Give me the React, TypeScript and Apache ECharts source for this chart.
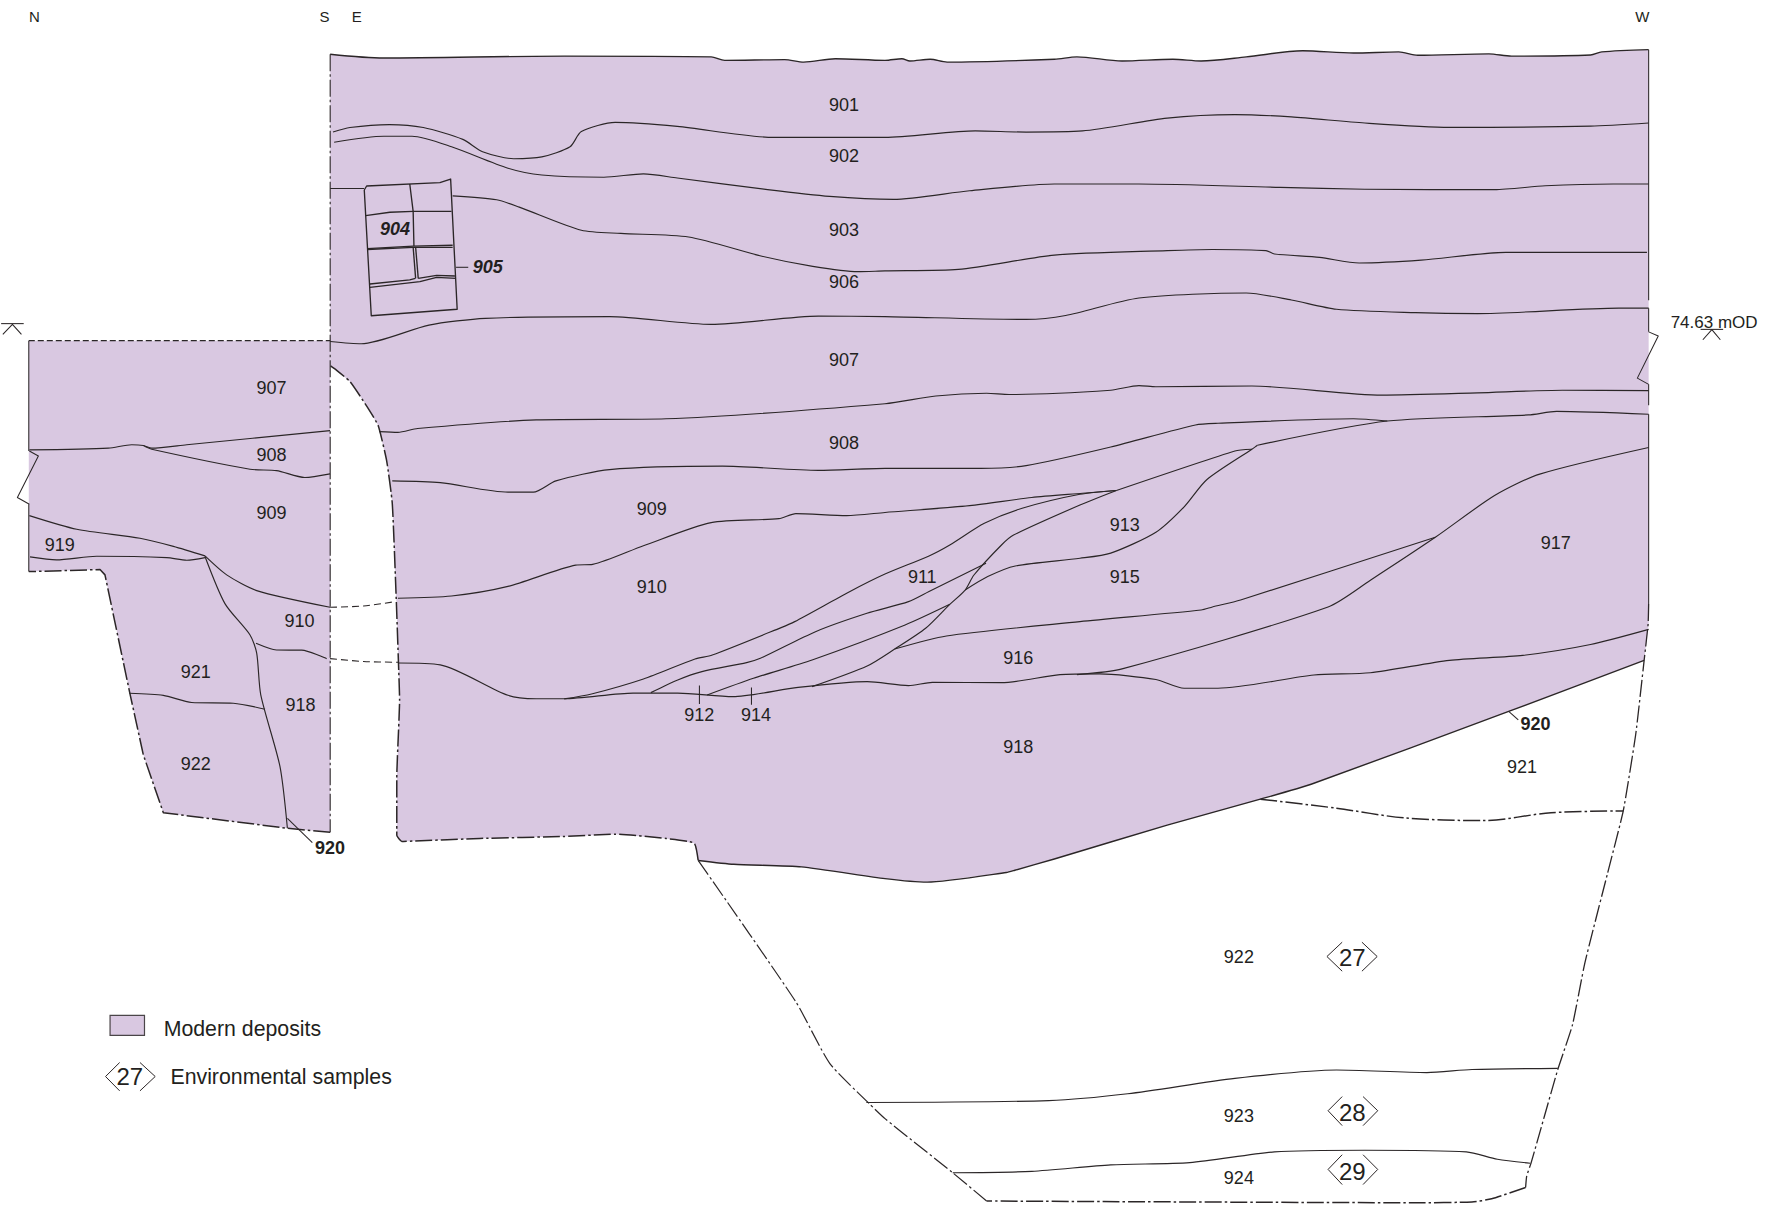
import React, { useEffect, useRef } from "react";
import * as echarts from "echarts";

type P = [number, number];
const X_MAX = 1568;
const Y_MAX = 1075.5;
const PURPLE = "#d9c8e1";
const INK = "#2b2627";
const FONT = '"Liberation Sans", Arial, sans-serif';

// ---- deposit outlines ----
const topEdge: P[] = [[292.5,48],[340,51.4],[500,49.7],[630,50.4],[642,53.5],[695,52.8],[712,55],[740,52],[784,53.5],[799,52],[806,54],[824,52.5],[839,55],[934,52.5],[954,50.4],[994,54],[1039,52.5],[1064,54],[1104,50.4],[1154,45],[1199,47],[1239,46],[1256,49],[1319,47.7],[1339,49.7],[1409,48.7],[1419,46],[1460.5,44]];
const bottomEdge: P[] = [[1456.5,585],[1336.5,630.3],[1161.5,694.8],[1116.5,708],[1034,731],[934,761],[899,771],[891.5,773],[821.5,781.5],[784,778.4],[710,768],[650,765.7],[618.5,762.3]];
const mainLowerEdge: P[] = [[618.5,762.3],[615,747],[590,742.8],[545,739],[500,741],[425,742.8],[367.5,745],[356,745.5],[351.5,740],[351.5,688.6],[354,620],[353,587.4],[351,530],[347.5,445.8],[342.5,408],[335,377],[325,360],[310,338],[297.5,327.5],[292.5,324]];
const rightEdgeFill: P[] = [[1460.5,44],[1460.5,553]];
const leftBlockOutline: P[] = [[25.5,301.8],[292.5,301.8],[292.5,737.3],[254.6,733.8],[144.7,720],[127,668.8],[115,614],[93,509.3],[88.6,504.6],[25.5,506.4]];
const leftBlockBottom: P[] = [[292.5,737.3],[254.6,733.8],[144.7,720],[127,668.8],[115,614],[93,509.3],[88.6,504.6],[25.5,506.4]];

// ---- strata, east-west face ----
const line901: P[] = [[295,117],[310,113],[345,110.4],[375,113],[410,123.5],[427.5,134.4],[455,140.6],[480,139],[505,130],[515,116.6],[545,108.4],[600,112],[685,121.7],[784,121.7],[864,116],[909,117],[959,116],[1034,104.6],[1094,101.5],[1144,103.6],[1209,109],[1284,112.8],[1409,111.8],[1460.5,109]];
const line902: P[] = [[296,126],[340,120.7],[365,120.7],[400,130],[450,149],[480,155],[535,157],[570,154],[600,157.7],[680,168],[735,174],[791.5,176.6],[859,169],[934,163],[1009,163],[1134,166],[1209,167.7],[1324,168],[1369,164.6],[1429,163],[1460.5,163]];
const line903a: P[] = [[292.5,167],[322.5,167]];
const line903b: P[] = [[401,173.5],[440,177],[460,183.5],[515,204],[550,206.8],[610,210],[675,227],[720,236],[760,240.7],[784,240],[849,238.7],[934,226],[1034,222],[1074,221],[1121.5,222],[1129,225],[1169,228],[1204,233],[1259,230.5],[1334,223.6],[1459,223.6]];
const line906: P[] = [[292.5,302.5],[320,304.5],[380,288],[430,282],[540,280.5],[630,287.4],[725,280],[784,280.5],[909,283],[944,279.5],[1009,264],[1104,259.6],[1144,265.8],[1184,274],[1254,277],[1309,277.8],[1434,273],[1460.5,273]];
const line907: P[] = [[336,382.4],[352.5,383],[370,379.6],[475,372],[590,371],[784,357.7],[829,350.8],[874,348.4],[894,349.5],[984,345.7],[1009,341.6],[1024,342.6],[1109,342],[1224,350],[1309,348],[1384,345.7],[1460.5,346]];
const line908: P[] = [[347.5,426],[390,427.6],[450,436],[472.5,436],[492.5,426],[540,416],[640,413],[725,416.7],[784,415],[869,415],[909,412.5],[984,396],[1059,376.5],[1079,375],[1199,371],[1229,373]];
const line909: P[] = [[352.5,530],[400,528],[450,519.5],[510,500.7],[525,500],[570,483.5],[630,463],[690,459.5],[705,455],[750,456.8],[784,454],[859,448],[914,440.7],[959,437],[989,434.5]];
const line917top: P[] = [[1114,394.4],[1229,373],[1354,367.6],[1379,364.5],[1460.5,367]];
const line913top: P[] = [[989,434.5],[1094,399.5],[1109,398]];
const line911: P[] = [[499.8,619.2],[524,614.8],[570,601.5],[615.7,583.8],[631,580.3],[692,556],[704,550.7],[753,524],[783.5,508.8],[823,492.5],[841.4,482.8],[872,463.6],[905.5,450.3],[956.7,437.9],[989,434.5]];
const line912: P[] = [[576.6,613.6],[600.4,602.4],[621.8,595],[661.4,587],[673.6,583.2],[722.4,559.6],[768,543.3],[804.8,533],[823,524],[873.5,499]];
const line914: P[] = [[626.4,615.7],[667.5,600.9],[719.4,584.7],[801.8,553.7],[841.4,535.4]];
const line915: P[] = [[719.4,608.3],[768.2,590],[792.6,575],[820,556.6],[841.4,535.4],[855,522.7],[862.8,509.4],[887.2,482.8],[897.9,474],[956.7,447.4],[989,434.5]];
const line913: P[] = [[855,522.7],[875,510.8],[899.4,501.4],[956.7,494.6],[984,490],[1024,471.5],[1049,449],[1069,425],[1109,398],[1114,394.4]];
const line916top: P[] = [[792.6,575],[838.4,563.4],[956.7,550.7],[1064,540.4],[1074,537.7],[1099,531.5],[1271.5,476]];
const line916bottom: P[] = [[954,597.7],[994,592.6],[1176.5,537.7],[1214,514],[1271.5,476],[1324,439],[1364,420],[1460.5,396.4]];
const line918: P[] = [[353,587.4],[390,589],[450,616],[475,619],[499.8,619],[560.8,614],[600.4,614],[649.2,617.2],[707,609],[768.2,603.9],[804.8,607.4],[826,604.5],[887.2,604.8],[939,597.7],[974,597],[1024,602],[1049,609.7],[1079,609.7],[1164,598],[1214,596],[1284,585],[1349,580.6],[1409,571],[1460.5,557.6]];

// ---- strata, north-south face ----
const south907: P[] = [[26,398.6],[96,397],[116.7,394],[127,394.7],[134.4,397],[165.4,394],[292.4,381.5]];
const south908: P[] = [[127,394.7],[134.4,398],[221.5,415.7],[245,416.9],[270,423],[292.4,419.8]];
const south909: P[] = [[26,456.8],[68,468.9],[124,476.8],[153.6,484],[181.6,492.5]];
const south919: P[] = [[26.6,493.4],[50,496],[85.6,492.8],[147.7,494],[165.4,496.3],[181.6,494]];
const south910: P[] = [[181.6,492.5],[200.8,509.3],[227.4,523.2],[292.4,538]];
const south921: P[] = [[181.6,493],[199.4,535],[221.5,562.5],[227.4,578.7],[231,615.6],[248,679],[254.6,733.8]];
const south918: P[] = [[226.8,569.9],[245,575.8],[267.3,576],[289.4,583.5]];
const south922: P[] = [[114.6,614.2],[144.7,616],[169.8,622.4],[206.7,623],[234.8,628.3]];

// ---- unshaded strata below 920 ----
const lower921: P[] = [[1116.5,708],[1184,716],[1244,724.6],[1314,727],[1374,720],[1438,718.4]];
const lower922: P[] = [[767.5,976.7],[929,975],[999,969],[1094,955.4],[1184,947.9],[1264,950.2],[1304,947.5],[1380,946.5]];
const lower923: P[] = [[844,1039],[914,1037.7],[984,1032],[1054,1030],[1129,1020.5],[1209,1019],[1299,1020.5],[1326.5,1027],[1355.5,1030.5]];
const lowerOutlineEast: P[] = [[1460.5,535],[1460,553],[1456.5,585],[1449,650.9],[1438,718.4],[1424,774],[1404,853],[1393,908],[1380,947.5],[1356.5,1029.8],[1352.5,1041.8],[1351.5,1052]];
const lowerOutlineBase: P[] = [[1351.5,1052],[1321.5,1062],[1304,1064.8],[1254,1065.5],[874,1064]];
const lowerOutlineWest: P[] = [[874,1064],[844,1039],[784,991],[770,977.7],[735,942],[705,887.5],[618.5,762.3]];

// ---- dashed links between faces ----
const link910: P[] = [[292.4,538],[322,536.8],[350,533]];
const link918: P[] = [[292.4,583.5],[322,586],[353,586.7]];
const topDash: P[] = [[25.5,301.8],[292.5,301.8]];
const sectionDivide: P[] = [[292.5,48],[292.5,737.3]];

// ---- straight drawn edges, breaks, leaders ----
const straightLines: P[][] = [
  [[1460.5,44],[1460.5,266]], [[1460.5,273],[1460.5,294]], [[1460.5,340.5],[1460.5,359]], [[1460.5,367],[1460.5,535]],
  [[1460.5,294],[1469,297.7],[1450.5,335],[1460.5,340.5]],
  [[25.5,301.8],[25.5,399.5]], [[25.5,446.7],[25.5,506.4]],
  [[26,399.5],[34,404],[15.4,440.8],[26,446.7]],
  [[1,286.7],[21,286.7]], [[2.5,296.3],[11,287.4],[19,296.3]],
  [[1506.5,291.8],[1526.5,291.8]], [[1508.5,301],[1516.5,292],[1524,301]],
  [[619.6,607.4],[619.6,623.7]], [[665.7,609],[665.7,624.3]],
  [[254.6,725],[276.7,746.5]], [[1336.5,630.3],[1345,637.8]],
  [[404,236.8],[414.8,236.8]],
];

// ---- recording frame 904/905 ----
const frameLines: P[][] = [
  [[322.7,168.3],[324.8,164.8],[389.7,161.8],[399.2,158.6],[405,274],[328.9,279.7],[322.7,168.3]],
  [[323.9,191],[345.4,188],[366,187.2],[400,187.2]],
  [[363,163],[366,187.2],[366.7,218]],
  [[325.4,220.3],[366,218],[401,217.3]],
  [[325.4,221],[366,219.2],[401,219.2]],
  [[366,219],[368.2,246.6]],
  [[368.2,219],[370.5,246.6]],
  [[327.7,251.6],[363,248],[368,246.6]],
  [[327.7,254.6],[372,249.5],[386.8,245.7],[404,246.6]],
  [[370.5,246.6],[386.8,244],[403,244.5]],
];

// ---- legend and sample markers ----
const swatch: P[] = [[97.5,899.5],[128,899.5],[128,917.3],[97.5,917.3]];
const chevronLines: P[][] = [
  [[106,941.3],[93.5,953.7],[106,966.4]], [[124,941.3],[137.5,953.7],[124,966.4]],
  [[1189,834.7],[1175.5,847.4],[1189,860.4]], [[1206.5,834.7],[1220,847.4],[1206.5,860.4]],
  [[1189,971.5],[1176.5,984],[1189,997.2]], [[1207.5,971.5],[1220.5,984],[1207.5,997.2]],
  [[1189,1023],[1176.5,1036],[1189,1049.4]], [[1207.5,1023],[1220.5,1036],[1207.5,1049.4]],
];

// ---- text ----
type L = [string, number, number];
const contextLabels: L[] = [
  ["901",747.7,92.8],["902",747.7,138.5],["903",747.7,203.8],["906",747.7,249.5],["907",747.7,318.5],["908",747.7,392.8],
  ["909",577.3,451],["910",577.3,520],["911",817,511.5],["913",996.3,465],["915",996.3,511],["916",902,582.8],
  ["917",1378.3,481],["918",902,661.8],["912",619.5,633],["914",669.7,633],["921",1348.3,679.8],["922",1097.5,847.8],
  ["923",1097.5,988.8],["924",1097.5,1043.5],["907",240.5,344],["908",240.5,403],["909",240.5,454.5],["919",53,483],
  ["910",265.3,550],["918",266.3,624.3],["921",173.5,595],["922",173.5,676.5],
];
const boldLabels: L[] = [["920",292.3,751.6],["920",1360.3,641.3]];
const boldItalicLabels: L[] = [["904",350,203],["905",432,236.7]];
const compassLabels: L[] = [["N",30.5,14.7],["S",287.5,14.7],["E",316,14.7],["W",1455,14.7]];
const sampleLabels: L[] = [["27",115,954],["27",1198,848],["28",1198,986],["29",1198,1038]];
const legendLabels: L[] = [["Modern deposits",145,912],["Environmental samples",151,954]];
const levelLabel: L[] = [["74.63 mOD",1480,286]];

const curved = [line901,line902,line903b,line906,line907,line908,line909,line917top,line911,line912,line914,line915,line913,line916top,line916bottom,line918,south907,south908,south909,south919,south910,south921,south918,south922,lower922,lower923];

function polygon(points: P[], fill: string, stroke?: string) {
  return {
    type: "custom", coordinateSystem: "cartesian2d", silent: true, clip: false, z: 1,
    data: [points[0]],
    renderItem: (_p: any, api: any) => ({
      type: "polygon",
      shape: { points: points.map((q) => api.coord(q)) },
      style: stroke ? { fill, stroke, lineWidth: 1.2 } : { fill, stroke: "none" },
    }),
  };
}
function stroke(points: P[], width: number, type: any, smooth: number | boolean, color = INK, z = 3) {
  return {
    type: "line", data: points, showSymbol: false, symbol: "none", silent: true, clip: false, z,
    smooth, lineStyle: { color, width, type, cap: "butt", join: "round" },
  };
}
function texts(list: L[], font: string, align: string) {
  return {
    type: "custom", coordinateSystem: "cartesian2d", silent: true, clip: false, z: 5,
    data: list.map((l) => [l[1], l[2], l[0]]),
    encode: { x: 0, y: 1 },
    renderItem: (_p: any, api: any) => {
      const c = api.coord([api.value(0), api.value(1)]);
      return {
        type: "text",
        style: { x: c[0], y: c[1], text: String(api.value(2)), font, fill: "#231f20", textAlign: align, textVerticalAlign: "middle" },
      };
    },
  };
}

export default function App() {
  const ref = useRef<HTMLDivElement>(null);
  useEffect(() => {
    const chart = echarts.init(ref.current!, undefined, { renderer: "svg" });
    const dashDot = [17, 3, 2.5, 3];
    const mainFill: P[] = [...topEdge, ...rightEdgeFill.slice(1), ...bottomEdge, ...mainLowerEdge.slice(1)];
    chart.setOption({
      animation: false,
      backgroundColor: "#ffffff",
      grid: { left: 0, right: 0, top: 0, bottom: 0 },
      xAxis: { type: "value", min: 0, max: X_MAX, show: false },
      yAxis: { type: "value", min: 0, max: Y_MAX, inverse: true, show: false },
      tooltip: { show: false },
      series: [
        polygon(mainFill, PURPLE),
        polygon(leftBlockOutline, PURPLE),
        polygon(swatch, PURPLE, "#4a4548"),
        stroke(topEdge, 1.4, "solid", 0.3),
        stroke(bottomEdge, 1.4, "solid", 0.2),
        stroke(mainLowerEdge, 1.5, dashDot, 0.15),
        stroke(leftBlockBottom, 1.5, dashDot, false),
        stroke(sectionDivide, 1.1, dashDot, false),
        stroke(lowerOutlineEast, 1.3, dashDot, 0.15),
        stroke(lowerOutlineBase, 1.5, dashDot, 0.2),
        stroke(lowerOutlineWest, 1.2, dashDot, 0.2),
        stroke(lower921, 1.5, dashDot, 0.3),
        stroke(topDash, 1.3, [6, 3], false),
        stroke(link910, 1.1, [7, 4], 0.3),
        stroke(link918, 1.1, [7, 4], 0.3),
        stroke(line903a, 1.1, "solid", false),
        stroke(line913top, 1.1, "solid", 0.2),
        ...curved.map((c) => stroke(c, 1.15, "solid", 0.25)),
        ...straightLines.map((c) => stroke(c, 1.05, "solid", false)),
        ...frameLines.map((c) => stroke(c, 1.35, "solid", false)),
        ...chevronLines.map((c) => stroke(c, 1, "solid", false)),
        texts(contextLabels, `18px ${FONT}`, "center"),
        texts(boldLabels, `bold 18px ${FONT}`, "center"),
        texts(boldItalicLabels, `italic bold 18px ${FONT}`, "center"),
        texts(compassLabels, `15px ${FONT}`, "center"),
        texts(sampleLabels, `24px ${FONT}`, "center"),
        texts(legendLabels, `21.3px ${FONT}`, "left"),
        texts(levelLabel, `17px ${FONT}`, "left"),
      ],
    });
    return () => chart.dispose();
  }, []);
  return <div ref={ref} style={{ position: "absolute", left: 0, top: 0, width: 1770, height: 1214 }} />;
}
